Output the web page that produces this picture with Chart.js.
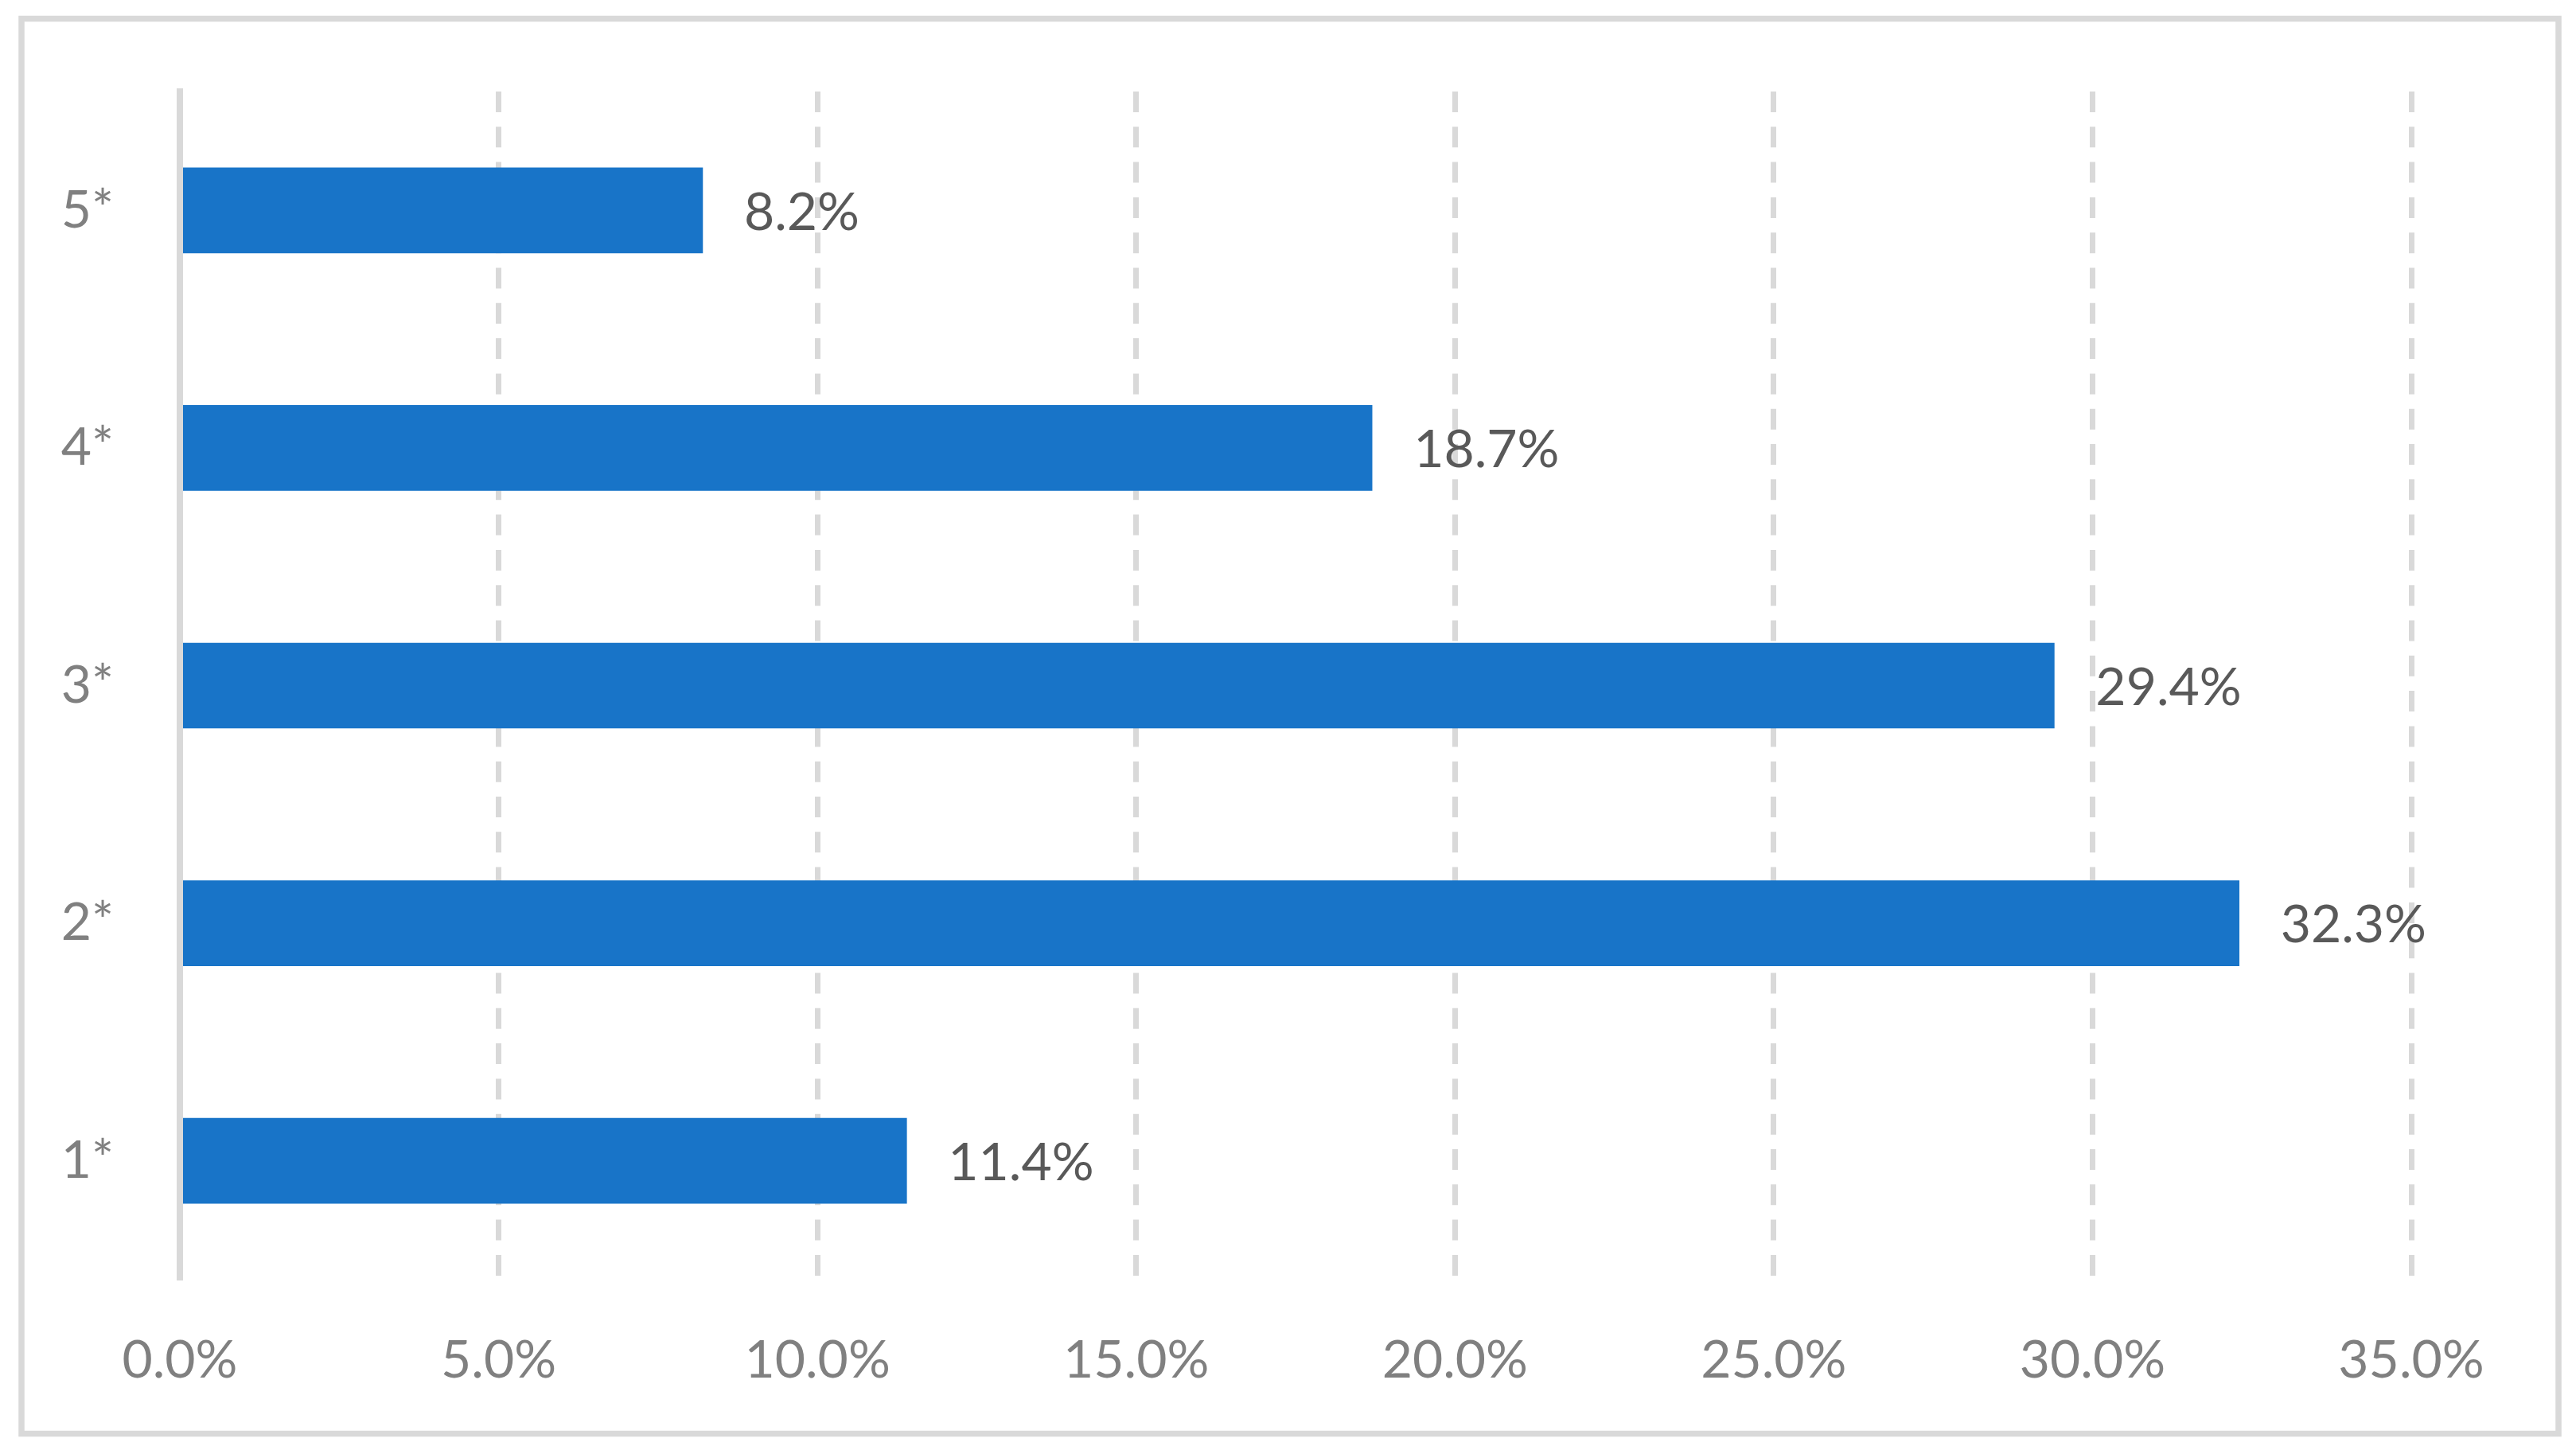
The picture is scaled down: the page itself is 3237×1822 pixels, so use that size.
<!DOCTYPE html>
<html>
<head>
<meta charset="utf-8">
<script src="https://cdn.jsdelivr.net/npm/chart.js@4.4.1/dist/chart.umd.min.js"></script>
<style>
  html, body { margin: 0; padding: 0; background: #fff; }
  #wrap { width: 3237px; height: 1822px; }
</style>
</head>
<body>
<div id="wrap"><canvas id="myChart"></canvas></div>
<script>
// datos
const categories = ['5*', '4*', '3*', '2*', '1*'];
const values = [8.2, 18.7, 29.4, 32.3, 11.4];
const tickValues = [0, 5, 10, 15, 20, 25, 30, 35];

const fontFamily = 'Lato, "Open Sans", sans-serif';

// marco gris alrededor del gráfico
const framePlugin = {
    id: 'frame',
    beforeDraw(chart) {
        const ctx = chart.ctx;
        ctx.save();
        ctx.fillStyle = '#ffffff';
        ctx.fillRect(0, 0, chart.width, chart.height);
        ctx.strokeStyle = '#d9d9d9';
        ctx.lineWidth = 7.5;
        ctx.strokeRect(27, 23.5, 3188, 1778);
        ctx.restore();
    }
};

// etiquetas de valor al final de cada barra
const valueLabels = {
    id: 'valueLabels',
    afterDatasetsDraw(chart) {
        const ctx = chart.ctx;
        const meta = chart.getDatasetMeta(0);
        ctx.save();
        ctx.font = '66px ' + fontFamily;
        ctx.fillStyle = '#595959';
        ctx.textAlign = 'left';
        ctx.textBaseline = 'middle';
        meta.data.forEach((bar, i) => {
            ctx.fillText(values[i].toFixed(1) + '%', bar.x + 52, bar.y + 3);
        });
        ctx.restore();
    }
};

const barData = {
    labels: categories,
    datasets: [{
        data: values,
        backgroundColor: '#1874c8',
        borderWidth: 0,
        barThickness: 107
    }]
};

const barConfig = {
    type: 'bar',
    data: barData,
    options: {
        indexAxis: 'y',
        responsive: true,
        maintainAspectRatio: false,
        animation: false,
        layout: {
            padding: { left: 0, top: 115, right: 207, bottom: 0 }
        },
        plugins: {
            legend: { display: false },
            tooltip: { enabled: false }
        },
        scales: {
            x: {
                min: 0,
                max: 35,
                afterBuildTicks(scale) {
                    scale.ticks = tickValues.map(v => ({ value: v }));
                },
                afterFit(scale) {
                    scale.height = 1822 - 1608;
                },
                grid: {
                    color: '#d9d9d9',
                    lineWidth: 7,
                    drawTicks: false
                },
                border: {
                    display: false,
                    dash: [26, 18.3]
                },
                ticks: {
                    padding: 62,
                    color: '#808080',
                    font: { family: fontFamily, size: 66 },
                    callback: v => v.toFixed(1) + '%'
                }
            },
            y: {
                afterFit(scale) {
                    scale.width = 226;
                },
                grid: { display: false },
                border: {
                    display: true,
                    color: '#d9d9d9',
                    width: 8,
                    z: 1
                },
                ticks: {
                    padding: 75,
                    color: '#808080',
                    font: { family: fontFamily, size: 66 }
                }
            }
        }
    },
    plugins: [framePlugin, valueLabels]
};

// Crear el gráfico
var barChart = new Chart(document.getElementById('myChart'), barConfig);
</script>
</body>
</html>
